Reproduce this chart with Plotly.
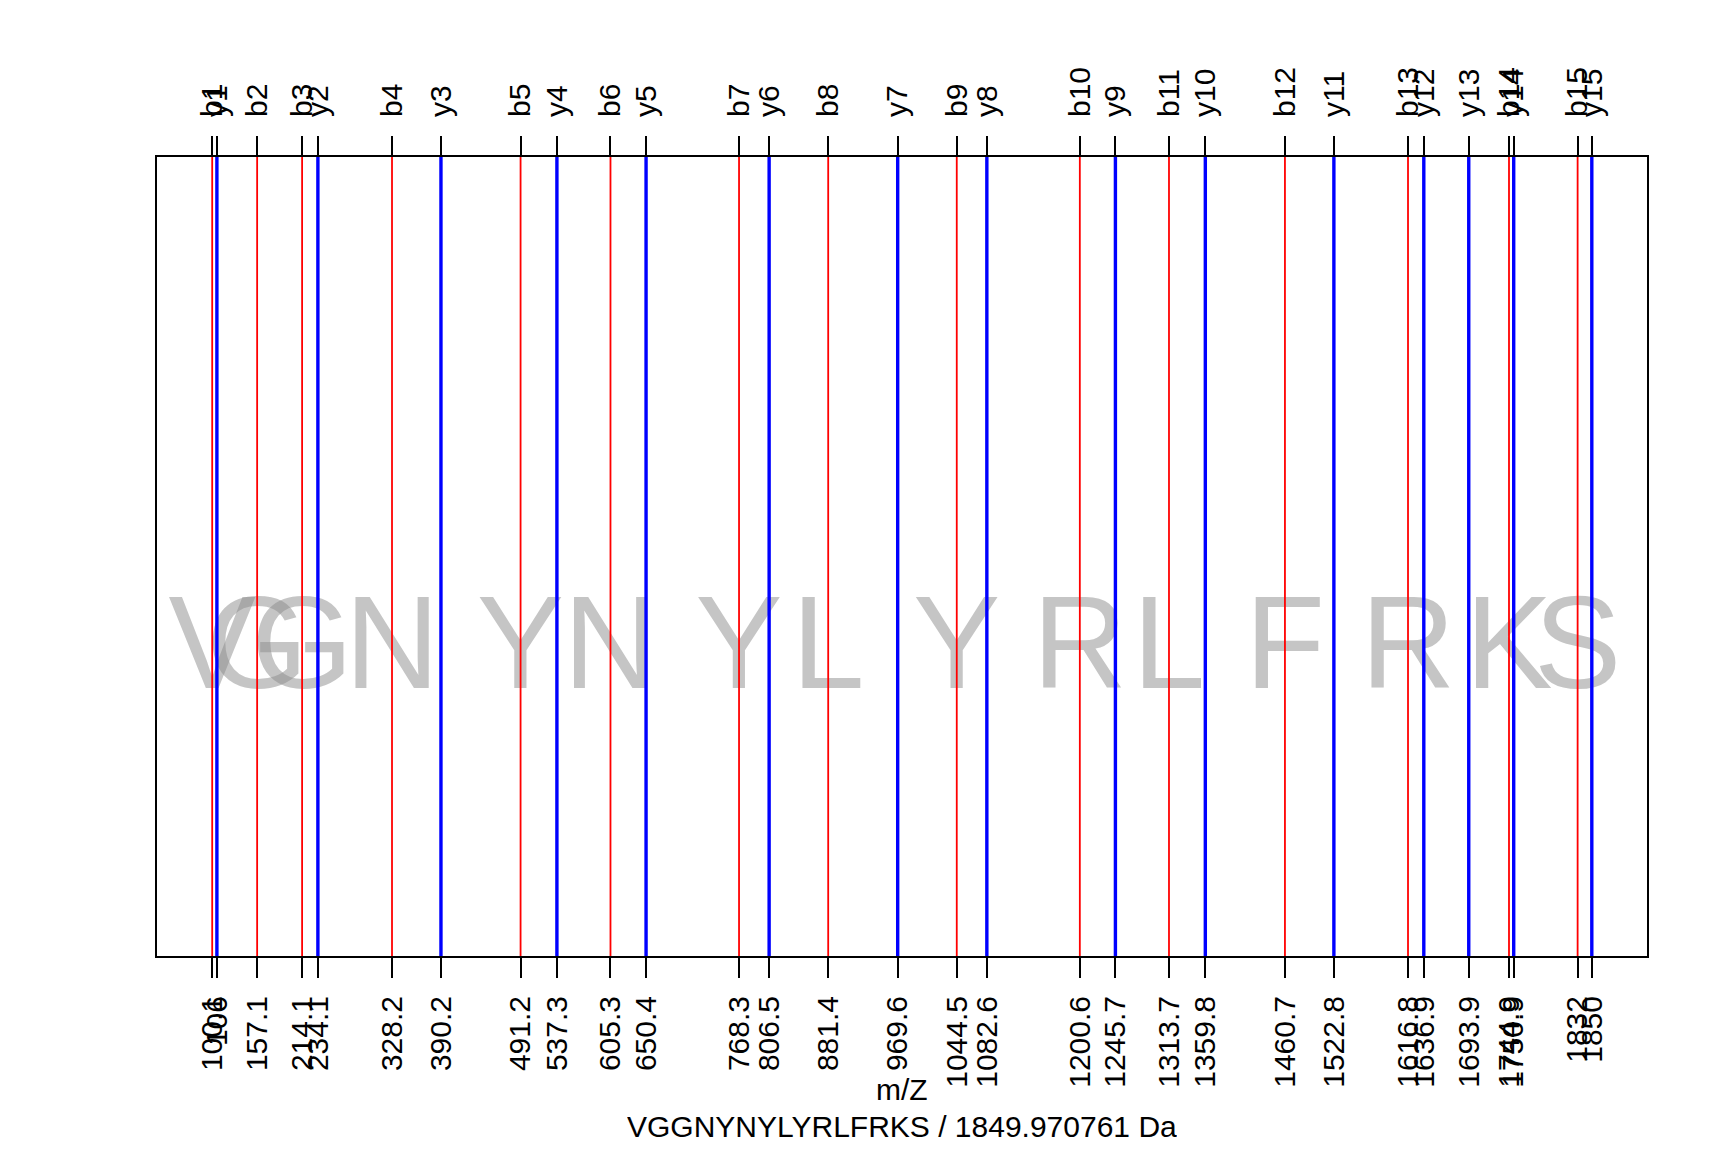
import plotly.graph_objects as go

# peptide and fragment ion masses (m/z)
sequence = "VGGNYNYLYRLFRKS"
parent_mass = 1849.970761

b_names = ["b%d" % i for i in range(1, 16)]
b_mz = [100.0757, 157.0972, 214.1186, 328.1615, 491.2249, 605.2678, 768.3311,
        881.4152, 1044.4785, 1200.5796, 1313.6637, 1460.7321, 1616.8332,
        1744.9282, 1831.9602]

y_names = ["y%d" % i for i in range(1, 16)]
y_mz = [106.0499, 234.1448, 390.2459, 537.3144, 650.3984, 806.4995, 969.5628,
        1082.6469, 1245.7102, 1359.7532, 1522.8165, 1636.8594, 1693.8809,
        1750.9023, 1849.9707]

letter_y = 0.377


def fmt(v):
    s = "%.1f" % v
    return s[:-2] if s.endswith(".0") else s


def segments(xs):
    xx, yy = [], []
    for v in xs:
        xx += [v, v, None]
        yy += [0, 1, None]
    return xx, yy


font = "Liberation Sans, Arial, sans-serif"

fig = go.Figure()

# big sequence letters behind the ion lines
fig.add_trace(go.Scatter(
    x=b_mz, y=[letter_y] * len(b_mz), mode="text",
    text=list(sequence), textposition="middle center",
    textfont=dict(family=font, size=131, color="rgba(140,140,140,0.5)"),
    hoverinfo="skip", showlegend=False,
))

bx, by = segments(b_mz)
fig.add_trace(go.Scatter(x=bx, y=by, mode="lines",
                         line=dict(color="red", width=1.8),
                         showlegend=False, hoverinfo="skip"))
yx, yy = segments(y_mz)
fig.add_trace(go.Scatter(x=yx, y=yy, mode="lines",
                         line=dict(color="blue", width=3.4),
                         showlegend=False, hoverinfo="skip"))

all_mz = b_mz + y_mz
all_names = b_names + y_names

lo, hi = min(all_mz), max(all_mz)
pad = 0.04 * (hi - lo)
xrange = [lo - pad, hi + pad]

# page body has an 8px margin, so the figure is a bit smaller than the window
fig.update_layout(
    width=1712, height=1136,
    margin=dict(l=149, r=73, t=149, b=188),
    plot_bgcolor="white", paper_bgcolor="white",
    font=dict(family=font, size=30, color="black"),
    xaxis=dict(
        range=xrange, showgrid=False, zeroline=False,
        showline=True, linecolor="black", linewidth=2, mirror=True,
        tickmode="array", tickvals=all_mz, ticktext=[fmt(v) for v in all_mz],
        ticks="outside", ticklen=20, tickwidth=2, tickcolor="black",
        tickangle=-90, tickfont=dict(size=30), ticklabelstandoff=6,
    ),
    xaxis2=dict(
        range=xrange, overlaying="x", side="top", matches="x",
        showgrid=False, zeroline=False, showline=False,
        tickmode="array", tickvals=all_mz, ticktext=all_names,
        ticks="outside", ticklen=20, tickwidth=2, tickcolor="black",
        tickangle=-90, tickfont=dict(size=30), ticklabelstandoff=13,
    ),
    yaxis=dict(
        range=[0, 1], showgrid=False, zeroline=False, showticklabels=False,
        showline=True, linecolor="black", linewidth=2, mirror=True, ticks="",
    ),
    annotations=[
        dict(text="m/Z", xref="paper", yref="paper", x=0.5, y=0,
             xanchor="center", yanchor="middle", yshift=-133,
             height=32, borderpad=0,
             showarrow=False, font=dict(size=30)),
        dict(text="%s / %.6f Da" % (sequence, parent_mass),
             xref="paper", yref="paper", x=0.5, y=0,
             xanchor="center", yanchor="middle", yshift=-170,
             height=32, borderpad=0,
             showarrow=False, font=dict(size=30)),
    ],
)

# invisible trace so the top axis is drawn
fig.add_trace(go.Scatter(x=[lo], y=[0], xaxis="x2", mode="markers",
                         marker=dict(opacity=0), showlegend=False,
                         hoverinfo="skip"))

fig.write_html("out.html")
